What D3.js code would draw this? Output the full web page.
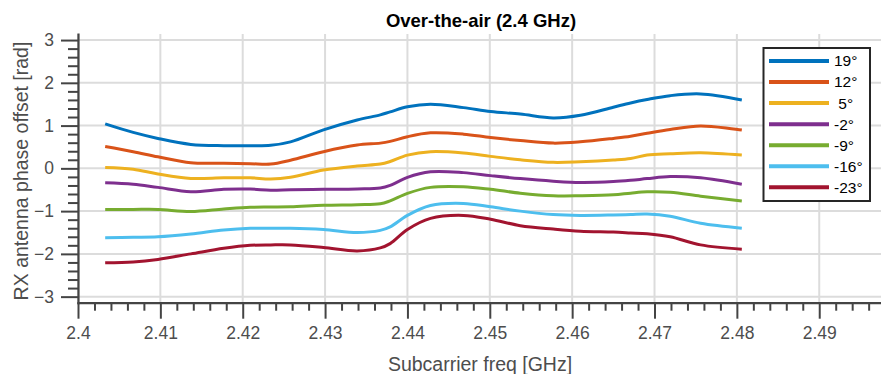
<!DOCTYPE html>
<html>
<head>
<meta charset="utf-8">
<script src="https://cdn.jsdelivr.net/npm/d3@7"></script>
<style>
  html, body { margin: 0; padding: 0; background: #fff; }
  svg { display: block; font-family: "Liberation Sans", Arial, Helvetica, sans-serif; }
</style>
</head>
<body>
<svg id="chart" width="881" height="374"></svg>
<script>
// Subcarrier frequencies (GHz) at which the phase offsets are sampled
const freq = [2.4033, 2.4067, 2.4097, 2.4137, 2.4177, 2.4209, 2.4234, 2.4258, 2.4298, 2.4339,
              2.4367, 2.4379, 2.4400, 2.4428, 2.4468, 2.4501, 2.4537, 2.4577, 2.4610, 2.4650,
              2.4671, 2.4691, 2.4719, 2.4756, 2.4806];

// RX antenna phase offset [rad], one array per arrival angle
const phase19  = [1.04, 0.84, 0.70, 0.56, 0.53, 0.53, 0.54, 0.62, 0.90, 1.13,
                  1.25, 1.32, 1.44, 1.50, 1.42, 1.33, 1.27, 1.18, 1.24, 1.43,
                  1.53, 1.61, 1.70, 1.74, 1.60];
const phase12  = [0.51, 0.39, 0.27, 0.13, 0.12, 0.11, 0.10, 0.19, 0.39, 0.545,
                  0.59, 0.63, 0.74, 0.83, 0.80, 0.72, 0.65, 0.59, 0.62, 0.70,
                  0.75, 0.82, 0.91, 0.99, 0.895];
const phase5   = [0.02, -0.02, -0.13, -0.235, -0.22, -0.22, -0.25, -0.21, -0.04, 0.055,
                  0.10, 0.16, 0.31, 0.39, 0.36, 0.28, 0.20, 0.14, 0.155, 0.195,
                  0.23, 0.31, 0.34, 0.365, 0.31];
const phaseM2  = [-0.335, -0.37, -0.445, -0.545, -0.49, -0.485, -0.51, -0.50, -0.49, -0.48,
                  -0.46, -0.40, -0.21, -0.08, -0.10, -0.17, -0.24, -0.30, -0.33, -0.31,
                  -0.28, -0.24, -0.19, -0.22, -0.37];
const phaseM9  = [-0.96, -0.96, -0.96, -1.01, -0.95, -0.91, -0.905, -0.90, -0.865, -0.85,
                  -0.83, -0.76, -0.585, -0.445, -0.43, -0.49, -0.58, -0.64, -0.64, -0.62,
                  -0.58, -0.55, -0.56, -0.65, -0.765];
const phaseM16 = [-1.62, -1.61, -1.60, -1.535, -1.44, -1.40, -1.40, -1.40, -1.43, -1.50,
                  -1.45, -1.37, -1.10, -0.87, -0.82, -0.90, -1.00, -1.08, -1.10, -1.09,
                  -1.08, -1.07, -1.12, -1.285, -1.40];
const phaseM23 = [-2.21, -2.19, -2.13, -2.00, -1.87, -1.80, -1.79, -1.79, -1.85, -1.93,
                  -1.86, -1.76, -1.43, -1.17, -1.10, -1.19, -1.34, -1.42, -1.47, -1.49,
                  -1.51, -1.53, -1.60, -1.79, -1.89];

const angleLabels = ["19°", "12°", " 5°", "-2°", "-9°", "-16°", "-23°"];
const seriesValues = [phase19, phase12, phase5, phaseM2, phaseM9, phaseM16, phaseM23];
const colors = ["#0072BD", "#D95319", "#EDB120", "#7E2F8E", "#77AC30", "#4DBEEE", "#A2142F"];

const xMajorTicks = [2.40, 2.41, 2.42, 2.43, 2.44, 2.45, 2.46, 2.47, 2.48, 2.49];
const yMajorTicks = [-3, -2, -1, 0, 1, 2, 3];

const svg = d3.select("#chart");
const plot = { left: 78, right: 881, top: 34, bottom: 302.7 };

const x = d3.scaleLinear().domain([2.4, 2.4975]).range([plot.left, plot.right]);
const y = d3.scaleLinear().domain([-Math.PI, Math.PI]).range([plot.bottom, plot.top]);

const axisColor = "#444";
const labelColor = "#4d4d4d";

// grid
const grid = svg.append("g");
grid.selectAll("line.gx").data(xMajorTicks).join("line")
  .attr("x1", d => x(d)).attr("x2", d => x(d))
  .attr("y1", plot.top).attr("y2", plot.bottom)
  .attr("stroke", "#dcdcdc").attr("stroke-width", 2);
grid.selectAll("line.gy").data(yMajorTicks).join("line")
  .attr("x1", plot.left).attr("x2", plot.right)
  .attr("y1", d => y(d)).attr("y2", d => y(d))
  .attr("stroke", "#dcdcdc").attr("stroke-width", 2);

// minor tick values
const xMinor = d3.range(0, 49).map(i => +(2.4 + i * 0.002).toFixed(3))
  .filter(v => v <= 2.4975 && !xMajorTicks.some(m => Math.abs(m - v) < 1e-9));
const yMinor = d3.range(-15, 16).map(i => +(i * 0.2).toFixed(1))
  .filter(v => Math.abs(v) <= Math.PI && !Number.isInteger(v));

function styleAxis(g) {
  g.selectAll("line").attr("stroke", axisColor).attr("stroke-width", 2);
  g.selectAll("path").attr("stroke", axisColor).attr("stroke-width", 2.2).attr("stroke-linecap", "square");
  g.selectAll("text").attr("fill", labelColor).style("font-size", "17.5px")
    .style("font-family", "'Liberation Sans', Arial, sans-serif");
}

// x axis
svg.append("g").attr("transform", `translate(0,${plot.bottom})`)
  .call(d3.axisBottom(x).tickValues(xMinor).tickSize(8).tickFormat(""))
  .call(g => g.select(".domain").remove())
  .call(styleAxis);
svg.append("g").attr("transform", `translate(0,${plot.bottom})`)
  .call(d3.axisBottom(x).tickValues(xMajorTicks).tickSizeInner(16).tickSizeOuter(0)
        .tickPadding(8).tickFormat(d3.format("~g")))
  .call(styleAxis);

// y axis
svg.append("g").attr("transform", `translate(${plot.left},0)`)
  .call(d3.axisLeft(y).tickValues(yMinor).tickSize(10).tickFormat(""))
  .call(g => g.select(".domain").remove())
  .call(styleAxis);
svg.append("g").attr("transform", `translate(${plot.left},0)`)
  .call(d3.axisLeft(y).tickValues(yMajorTicks).tickSizeInner(17).tickSizeOuter(0)
        .tickPadding(7).tickFormat(d3.format("d")))
  .call(styleAxis);

// series
const line = d3.line()
  .x((d, i) => x(freq[i]))
  .y(d => y(d))
  .curve(d3.curveCatmullRom.alpha(0.5));

svg.append("g").selectAll("path").data(seriesValues).join("path")
  .attr("d", d => line(d))
  .attr("fill", "none")
  .attr("stroke", (d, i) => colors[i])
  .attr("stroke-width", 3)
  .attr("stroke-linejoin", "round");

// title and axis labels
svg.append("text").attr("x", 481).attr("y", 27).attr("text-anchor", "middle")
  .style("font-size", "18.5px").style("font-weight", "bold").attr("fill", "#000")
  .text("Over-the-air (2.4 GHz)");
svg.append("text").attr("x", 480).attr("y", 371).attr("text-anchor", "middle")
  .style("font-size", "19.5px").attr("fill", labelColor)
  .text("Subcarrier freq [GHz]");
svg.append("text").attr("transform", `translate(28,171) rotate(-90)`)
  .attr("text-anchor", "middle")
  .style("font-size", "19.5px").attr("fill", labelColor)
  .text("RX antenna phase offset [rad]");

// legend
const legend = svg.append("g");
legend.append("rect").attr("x", 763.5).attr("y", 48).attr("width", 106.5).attr("height", 153)
  .attr("fill", "#fff").attr("stroke", "#262626").attr("stroke-width", 2);
const items = legend.selectAll("g.item").data(angleLabels).join("g")
  .attr("transform", (d, i) => `translate(0,${61 + i * 21.05})`);
items.append("line").attr("x1", 769).attr("x2", 829).attr("y1", 0).attr("y2", 0)
  .attr("stroke", (d, i) => colors[i]).attr("stroke-width", 4);
items.append("text").attr("x", 834).attr("y", 0).attr("dy", "0.35em")
  .attr("xml:space", "preserve").style("white-space", "pre")
  .style("font-size", "15.5px").attr("fill", "#000")
  .text(d => d);
</script>
</body>
</html>
